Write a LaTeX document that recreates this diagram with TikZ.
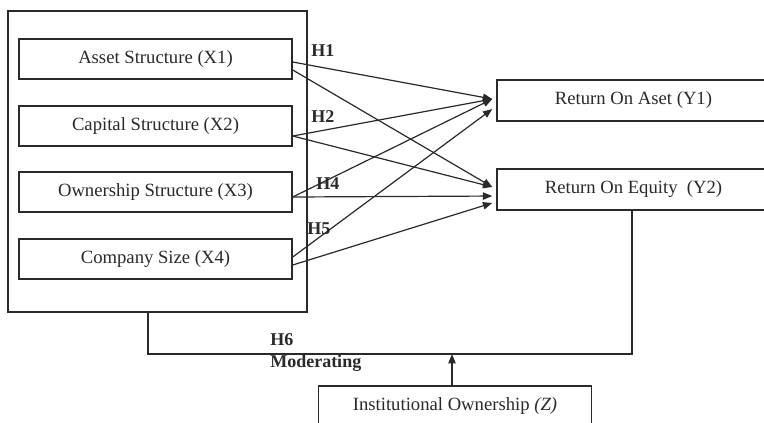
\documentclass[tikz,border=0pt]{standalone}
\usepackage{fontspec}
\setmainfont{Liberation Serif}
\usetikzlibrary{arrows.meta}
\definecolor{ink}{HTML}{2A2A2A}
\begin{document}
\begin{tikzpicture}[x=0.75pt,y=-0.75pt,
  every node/.style={text=ink, font=\fontsize{14}{16}\selectfont},
  varbox/.style={draw=ink, line width=1.1pt, minimum width=204.75pt, minimum height=30pt, inner sep=0pt},
  hlabel/.style={anchor=west, font=\fontsize{13.5}{16}\selectfont\bfseries, inner sep=0pt},
  link/.style={draw=ink, line width=0.9pt, -{Triangle[length=7pt,width=5.5pt]}},
  frame/.style={draw=ink, line width=1.1pt}]
\clip (0,0) rectangle (764,422);
\fill[white] (0,0) rectangle (764,422);
% outer frame
\node[frame, minimum width=224.25pt, minimum height=225.75pt, inner sep=0pt] (outer) at (157.5,161.5) {};
% independent variables
\node[varbox] (x1) at (155.5,59) {Asset Structure (X1)};
\node[varbox] (x2) at (155.5,126) {Capital Structure (X2)};
\node[varbox] (x3) at (155.5,192) {Ownership Structure (X3)};
\node[varbox] (x4) at (155.5,259) {Company Size (X4)};
% dependent variables
\node[varbox, minimum height=30.75pt] (y1) at (633.5,100.5) {Return On Aset (Y1)};
\node[varbox, minimum height=30.75pt] (y2) at (633.5,189.5) {Return On Equity\ \ (Y2)};
% moderator
\node[varbox] (z) at (455,406) {Institutional Ownership \textit{(Z)}};
% arrow targets
\coordinate (y1a) at ([xshift=-3pt,yshift=1.1pt]y1.west);
\coordinate (y1b) at ([xshift=-3pt,yshift=-6.4pt]y1.west);
\coordinate (y2a) at ([xshift=-3pt,yshift=1.9pt]y2.west);
\coordinate (y2b) at ([xshift=-3pt,yshift=-4.9pt]y2.west);
\coordinate (y2c) at ([xshift=-3pt,yshift=-10.1pt]y2.west);
% connectors
\draw[link] ([yshift=-2.25pt]x1.east) -- (y1a);
\draw[link] ([yshift=-8.25pt]x1.east) -- (y2a);
\draw[link] ([yshift=-7.5pt]x2.east) -- (y1a);
\draw[link] ([yshift=-7.5pt]x2.east) -- (y2a);
\draw[link] ([yshift=-3.75pt]x3.east) -- (y1a);
\draw[link] ([yshift=-3.75pt]x3.east) -- (y2b);
\draw[link] ([yshift=1.5pt]x4.east) -- (y1b);
\draw[link] ([yshift=-4.5pt]x4.east) -- (y2c);
% hypothesis labels
\node[hlabel] (h1) at (311,51) {H1};
\node[hlabel] (h2) at (311,117) {H2};
\node[hlabel] (h4) at (316,184) {H4};
\node[hlabel] (h5) at (307,229) {H5};
\node[hlabel] (h6) at (270,340) {H6};
\node[hlabel] (mod) at (270,363) {Moderating};
% moderating feedback path
\coordinate (fl) at (148,354);
\coordinate (fr) at (632,354);
\draw[frame] (fl |- outer.south) -- (fl) -- (fr) -- (fr |- y2.south);
\draw[draw=ink, line width=0.9pt, -{Triangle[length=7pt,width=5.5pt]}] ([xshift=-2.25pt]z.north) -- ([xshift=-2.25pt]z.north |- fl);
\end{tikzpicture}
\end{document}
